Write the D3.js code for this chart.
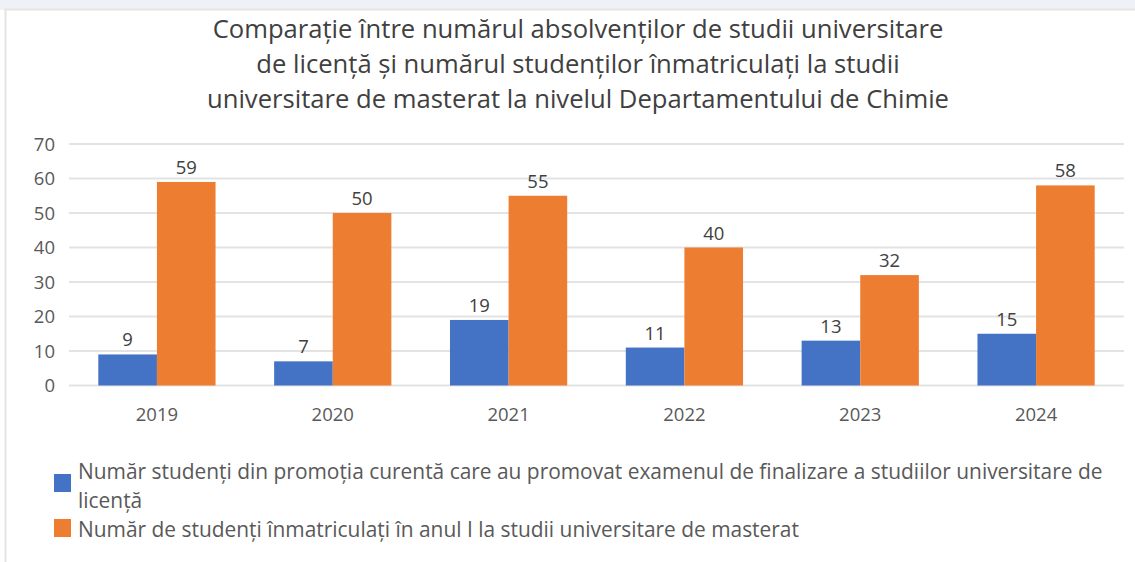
<!DOCTYPE html>
<html>
<head>
<meta charset="utf-8">
<script src="https://cdn.jsdelivr.net/npm/d3@7"></script>
<style>
  html, body { margin: 0; padding: 0; background: #ffffff; }
  svg { display: block; }
</style>
</head>
<body>
<svg id="chart" width="1135" height="562"></svg>
<script>
// Chart data
const years = ["2019", "2020", "2021", "2022", "2023", "2024"];
const graduates = [9, 7, 19, 11, 13, 15];      // absolvenți licență
const enrolled = [59, 50, 55, 40, 32, 58];     // înmatriculați master
const yTicks = [0, 10, 20, 30, 40, 50, 60, 70];
const seriesNames = [
  "Număr studenți din promoția curentă care au promovat examenul de finalizare a studiilor universitare de",
  "licență",
  "Număr de studenți înmatriculați în anul I la studii universitare de masterat"
];
const titleLines = [
  "Comparație între numărul absolvenților de studii universitare",
  "de licență și numărul studenților înmatriculați la studii",
  "universitare de masterat la nivelul Departamentului de Chimie"
];
const colors = ["#4472c4", "#ed7d31"];

const svg = d3.select("#chart");
const W = 1135, H = 562;
const font = "'Open Sans', 'Noto Sans', sans-serif";

// page strip above the chart frame
svg.append("rect").attr("x", 0).attr("y", 0).attr("width", W).attr("height", 10).attr("fill", "#eef2f6");
svg.append("rect").attr("x", 5.5).attr("y", 9.5).attr("width", W).attr("height", H)
  .attr("fill", "#ffffff").attr("stroke", "#e4e4e4").attr("stroke-width", 2);

const plot = { left: 69, right: 1124, top: 144, bottom: 385.5 };

const x0 = d3.scaleBand().domain(years).range([plot.left, plot.right]).paddingInner(0.3333).paddingOuter(0.1667);
const x1 = d3.scaleBand().domain([0, 1]).range([0, x0.bandwidth()]);
const y = d3.scaleLinear().domain([0, 70]).range([plot.bottom, plot.top]);

// gridlines
svg.append("g").selectAll("line").data(yTicks).join("line")
  .attr("x1", plot.left).attr("x2", plot.right)
  .attr("y1", d => y(d)).attr("y2", d => y(d))
  .attr("stroke", "#e3e3e3").attr("stroke-width", 2);

// y axis labels
const yAxis = d3.axisLeft(y).tickValues(yTicks).tickSize(0).tickPadding(0);
const gy = svg.append("g").attr("transform", `translate(55,0)`).call(yAxis);
gy.select(".domain").remove();
gy.selectAll("text").attr("font-family", font).attr("font-size", 18.5).attr("fill", "#595959").attr("dy", "0.35em");

// x axis labels
const xAxis = d3.axisBottom(x0).tickSize(0).tickPadding(0);
const gx = svg.append("g").attr("transform", `translate(0,${plot.bottom})`).call(xAxis);
gx.select(".domain").remove();
gx.selectAll("text").attr("font-family", font).attr("font-size", 18.5).attr("fill", "#595959").attr("dy", "35px");

// bars
const series = [graduates, enrolled];
const groups = svg.append("g").selectAll("g").data(years).join("g")
  .attr("transform", d => `translate(${x0(d)},0)`);

series.forEach((vals, si) => {
  groups.append("rect")
    .attr("x", x1(si))
    .attr("width", x1.bandwidth())
    .attr("y", (d, i) => y(vals[i]))
    .attr("height", (d, i) => y(0) - y(vals[i]))
    .attr("fill", colors[si]);
  groups.append("text")
    .attr("x", x1(si) + x1.bandwidth() / 2)
    .attr("y", (d, i) => y(vals[i]) - 8)
    .attr("text-anchor", "middle")
    .attr("font-family", font).attr("font-size", 18.5).attr("fill", "#404040")
    .text((d, i) => vals[i]);
});

// title
const fitWidth = (sel, target) => {
  const w = sel.node().getComputedTextLength();
  const fs = parseFloat(sel.attr("font-size"));
  sel.attr("font-size", fs * target / w);
};
const title = svg.append("g");
const tl = title.selectAll("text").data(titleLines).join("text")
  .attr("x", 578).attr("y", (d, i) => 38 + i * 35)
  .attr("text-anchor", "middle")
  .attr("font-family", font).attr("font-size", 20).attr("fill", "#404040")
  .text(d => d);
const t0 = tl.filter((d, i) => i === 0);
fitWidth(t0, 731);
tl.attr("font-size", t0.attr("font-size"));

// legend
const legend = svg.append("g");
legend.append("rect").attr("x", 54).attr("y", 474).attr("width", 17).attr("height", 18).attr("fill", colors[0]);
legend.append("rect").attr("x", 54).attr("y", 519).attr("width", 17).attr("height", 18).attr("fill", colors[1]);
const lt = legend.selectAll("text").data(seriesNames).join("text")
  .attr("x", 78).attr("y", (d, i) => [479, 508, 537][i])
  .attr("font-family", font).attr("font-size", 17).attr("fill", "#595959")
  .text(d => d);
const l0 = lt.filter((d, i) => i === 0);
fitWidth(l0, 1025);
lt.attr("font-size", l0.attr("font-size"));
</script>
</body>
</html>
